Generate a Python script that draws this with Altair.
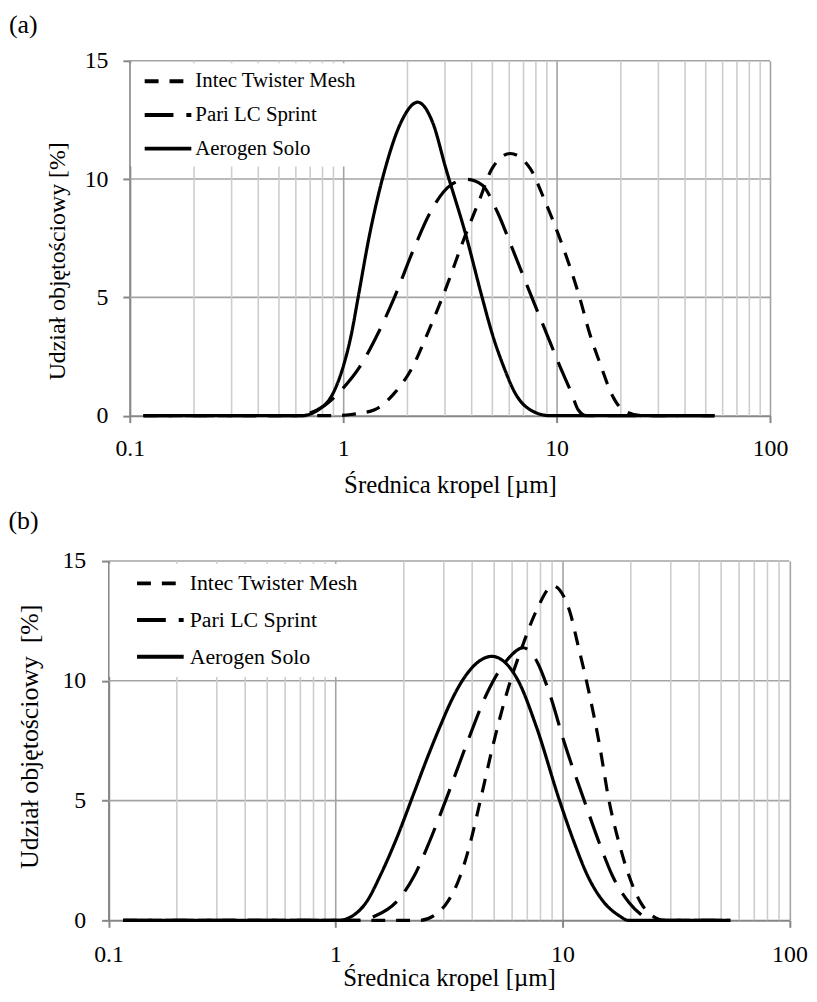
import altair as alt
import pandas as pd

FONT = "Liberation Serif"
SERIES = ["Intec Twister Mesh", "Pari LC Sprint", "Aerogen Solo"]
DASHES = [[14, 11], [29, 13], [1, 0]]

X_TICKS = [0.1, 1, 10, 100]
Y_TICKS = [0, 5, 10, 15]
Y_GRID = [5, 10, 15]
MINOR = [0.2, 0.3, 0.4, 0.5, 0.6, 0.7, 0.8, 0.9,
         2, 3, 4, 5, 6, 7, 8, 9,
         20, 30, 40, 50, 60, 70, 80, 90]

# ---- panel (a): droplet diameter [um] and volume fraction [%] ----
a_intec_x = [0.116, 0.891, 1.089, 1.403, 1.738, 2.118, 2.483, 2.917, 3.750, 4.325, 4.989,
             6.067, 7.516, 8.831, 10.19, 12.82, 14.29, 16.18, 18.03, 20.42, 24.83, 54.9]
a_intec_y = [0, 0, 0.05, 0.25, 0.95, 2.07, 3.47, 5.0, 7.66, 9.06, 10.45,
             11.08, 10.45, 9.06, 7.66, 5.0, 3.47, 2.07, 0.95, 0.25, 0, 0]

a_pari_x = [0.116, 0.617, 0.664, 0.807, 0.982, 1.197, 1.455, 1.738, 2.153, 2.576, 3.192,
            3.811, 4.477, 5.260, 6.180, 7.656, 8.974, 10.38, 11.75, 12.62, 13.80, 54.9]
a_pari_y = [0, 0, 0.05, 0.39, 1.09, 2.07, 3.47, 5.0, 7.1, 8.64, 9.75,
            9.99, 9.75, 8.64, 7.1, 5.0, 3.47, 2.07, 0.95, 0.25, 0, 0]

a_aero_x = [0.116, 0.638, 0.766, 0.897, 1.000, 1.094, 1.175, 1.330, 1.574, 1.866, 2.234,
            2.624, 3.027, 3.750, 4.477, 4.989, 5.649, 6.397, 7.516, 9.268, 54.9]
a_aero_y = [0, 0, 0.25, 0.95, 2.07, 3.47, 5.0, 7.66, 10.45, 12.4, 13.25,
            12.4, 10.45, 7.66, 5.0, 3.47, 2.07, 0.95, 0.25, 0, 0]

# ---- panel (b) ----
b_intec_x = [0.116, 2.344, 2.716, 3.105, 3.548, 3.926, 4.345, 4.966, 5.675, 6.714, 7.674,
             9.078, 10.74, 11.67, 13.12, 14.52, 16.03, 17.74, 19.63, 22.08, 24.83, 28.18, 54.9]
b_intec_y = [0, 0, 0.2, 0.75, 1.86, 3.24, 5.0, 7.39, 9.47, 11.54, 12.93,
             13.96, 12.93, 11.54, 9.47, 7.39, 5.0, 3.24, 1.86, 0.75, 0.2, 0, 0]

b_pari_x = [0.116, 1.259, 1.510, 1.845, 2.223, 2.582, 3.055, 3.793, 4.645, 5.675, 6.714,
            7.674, 8.770, 10.21, 12.47, 14.52, 16.60, 19.63, 22.44, 23.93, 54.9]
b_pari_y = [0, 0, 0.2, 0.75, 1.86, 3.24, 5.0, 7.39, 9.47, 10.85, 11.38,
            10.85, 9.47, 7.39, 5.0, 3.24, 1.86, 0.75, 0.2, 0, 0]

b_aero_x = [0.116, 1.028, 1.194, 1.365, 1.589, 1.845, 2.223, 2.541, 2.904, 3.213, 3.673,
            4.887, 6.383, 7.674, 9.705, 11.27, 12.91, 15.24, 17.74, 19.50, 54.9]
b_aero_y = [0, 0, 0.2, 0.75, 1.95, 3.35, 5.35, 6.8, 8.15, 9.1, 10.1,
            11.02, 10.0, 8.08, 5.0, 3.24, 1.86, 0.75, 0.2, 0, 0]


def to_frame(pairs):
    rows = []
    for name, (xs, ys) in zip(SERIES, pairs):
        for xv, yv in zip(xs, ys):
            rows.append({"x": xv, "y": yv, "series": name})
    return pd.DataFrame(rows)


def panel(df, W, H, x_range, y_offset, tag, tag_x, tag_y, ytitle, ytitle_x, ytitle_y,
          ytitle_size, xtitle_size, xlab_pad, xtitle_pad, ylab_pad, leg):
    if x_range is None:
        xscale = alt.Scale(type="log", domain=[0.1, 100], nice=False)
    else:
        xscale = alt.Scale(type="log", domain=[0.1, 100], nice=False, range=x_range)
    yscale = alt.Scale(domain=[0, 15], nice=False)
    xaxis = alt.Axis(values=X_TICKS, format="~g", title="Średnica kropel [µm]",
                     grid=True, gridColor="#a3a3a3", gridWidth=1.6,
                     domainColor="#868686", domainWidth=2, tickColor="#868686",
                     tickWidth=2, tickSize=7, labelFont=FONT, labelFontSize=24,
                     labelColor="black", labelPadding=xlab_pad, labelFlush=False,
                     labelOverlap=False, titleFont=FONT, titleFontSize=xtitle_size,
                     titleFontWeight="normal", titleColor="black",
                     titlePadding=xtitle_pad)
    yaxis = alt.Axis(values=Y_TICKS, title=ytitle, grid=False, offset=y_offset,
                     domainColor="#868686", domainWidth=2,
                     tickColor="#868686", tickWidth=2, tickSize=7, labelFont=FONT,
                     labelFontSize=24, labelColor="black", labelPadding=ylab_pad,
                     labelFlush=False, titleFont=FONT, titleFontSize=ytitle_size,
                     titleFontWeight="normal", titleColor="black",
                     titleX=ytitle_x, titleY=ytitle_y, titleAlign="center",
                     titleAngle=270, titleBaseline="bottom")

    hgrid = alt.Chart(pd.DataFrame({"v": Y_GRID, "x0": [0.1] * len(Y_GRID),
                                    "x1": [100] * len(Y_GRID)})).mark_rule(
        color="#a3a3a3", strokeWidth=1.6
    ).encode(
        x=alt.X("x0:Q", scale=xscale, axis=xaxis),
        x2="x1:Q",
        y=alt.Y("v:Q", scale=yscale, axis=yaxis),
    )

    minor = alt.Chart(pd.DataFrame({"x": MINOR})).mark_rule(
        color="#cdcdcd", strokeWidth=1.6
    ).encode(
        x=alt.X("x:Q", scale=xscale, axis=xaxis),
        y=alt.value(0),
        y2=alt.value(H),
    )

    legend = alt.Legend(
        title=None, orient="none", legendX=leg["x"], legendY=leg["y"],
        fillColor="white", padding=leg["pad"], symbolType="stroke",
        symbolSize=2209, symbolStrokeWidth=4, symbolStrokeColor="black",
        symbolOffset=leg["so"], labelOffset=leg["lo"], clipHeight=leg["ch"],
        rowPadding=0, labelFont=FONT, labelFontSize=leg["fs"], labelColor="black",
        labelLimit=0, labelBaseline="middle",
    )

    lines = alt.Chart(df).mark_line(
        color="black", strokeWidth=3.2, interpolate="monotone"
    ).encode(
        x=alt.X("x:Q", scale=xscale, axis=xaxis),
        y=alt.Y("y:Q", scale=yscale, axis=yaxis),
        strokeDash=alt.StrokeDash("series:N",
                                  scale=alt.Scale(domain=SERIES, range=DASHES),
                                  legend=legend),
        detail="series:N",
    )

    label = alt.Chart(pd.DataFrame({"t": [tag]})).mark_text(
        align="left", baseline="alphabetic", font=FONT, fontSize=26, color="black"
    ).encode(x=alt.value(tag_x), y=alt.value(tag_y), text="t:N")

    return alt.layer(hgrid, minor, lines, label).properties(width=W, height=H)


df_a = to_frame([(a_intec_x, a_intec_y), (a_pari_x, a_pari_y), (a_aero_x, a_aero_y)])
df_b = to_frame([(b_intec_x, b_intec_y), (b_pari_x, b_pari_y), (b_aero_x, b_aero_y)])

pa = panel(df_a, 645, 357.5, None, 0, "(a)", -121.7, -28.2, "Udział objętościowy [%]",
           -60.7, 201.5, 24, 25, 14, 12, 15,
           {"x": 1, "y": 2.5, "pad": 1, "so": 11, "lo": 2, "ch": 34, "fs": 21})
pb = panel(df_b, 664.6, 362, [-21.4, 664.6], 21.4, "(b)", -122.2, -32.2,
           "Udział objętościowy \u00a0[%]",
           -66.6, 176.5, 26, 25, 15, 0, 16,
           {"x": -20.4, "y": 2.75, "pad": 1.5, "so": 24.2, "lo": 4, "ch": 36.5, "fs": 22})

chart = alt.vconcat(pa, pb, spacing=10).resolve_scale(
    strokeDash="independent"
).resolve_legend(
    strokeDash="independent"
).properties(
    autosize=alt.AutoSizeParams(type="none"),
    padding={"left": 122.7, "top": 49.5, "right": 684.3, "bottom": 936.5},
).configure(font=FONT, background="white").configure_view(stroke=None)

chart.save("out.html", embed_options={"renderer": "svg", "actions": False})
